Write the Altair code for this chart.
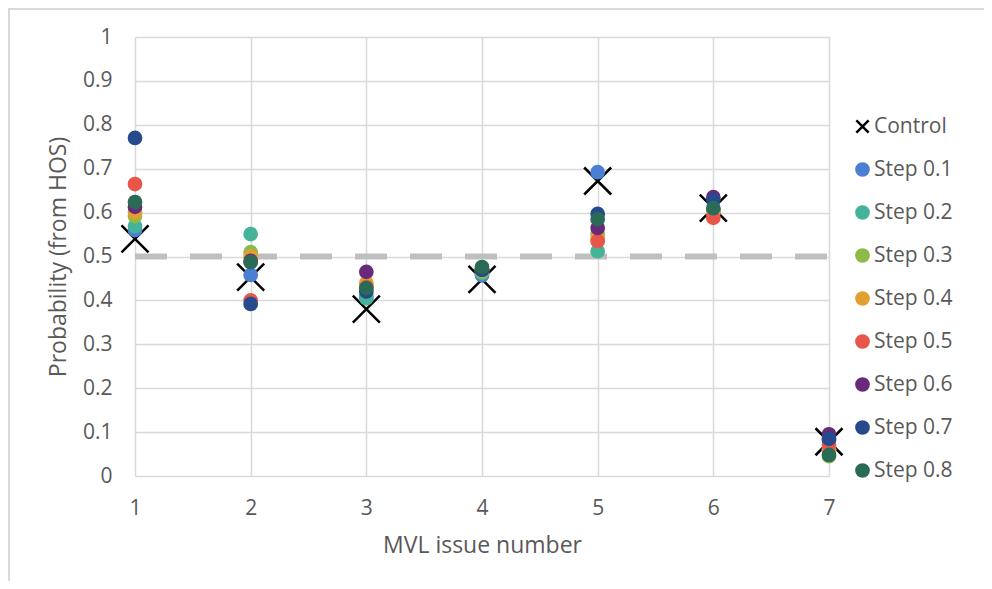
import altair as alt
import pandas as pd

issues = [1, 2, 3, 4, 5, 6, 7]
series_names = ["Control", "Step 0.1", "Step 0.2", "Step 0.3", "Step 0.4",
                "Step 0.5", "Step 0.6", "Step 0.7", "Step 0.8"]
control = [0.540, 0.453, 0.380, 0.448, 0.672, 0.610, 0.078]
step01 = [0.560, 0.458, 0.410, 0.457, 0.692, 0.605, 0.082]
step02 = [0.569, 0.551, 0.405, 0.462, 0.512, 0.600, 0.060]
step03 = [0.592, 0.510, 0.435, 0.465, 0.550, 0.605, 0.045]
step04 = [0.600, 0.500, 0.440, 0.470, 0.540, 0.600, 0.060]
step05 = [0.665, 0.400, 0.430, 0.470, 0.535, 0.588, 0.070]
step06 = [0.613, 0.490, 0.465, 0.470, 0.565, 0.635, 0.095]
step07 = [0.770, 0.392, 0.420, 0.470, 0.597, 0.628, 0.085]
step08 = [0.624, 0.487, 0.428, 0.476, 0.585, 0.610, 0.048]
threshold = [0.5]

colors = ["#000000", "#4A7FD4", "#44B39A", "#8DBA48", "#E2A032",
          "#E8564A", "#6A2A7A", "#264A8C", "#2A6B58"]
X_PATH = "M-1,-1L1,1M-1,1L1,-1"

all_series = [control, step01, step02, step03, step04, step05, step06, step07, step08]
rows = []
for name, vals in zip(series_names, all_series):
    for i, v in zip(issues, vals):
        rows.append({"issue": i, "prob": v, "series": name,
                     "kind": "control" if name == "Control" else "step"})
df = pd.DataFrame(rows)

FONT = "Open Sans"
GREY_TXT = "#595959"

x_scale = alt.Scale(domain=[1, 7], nice=False, zero=False)
y_scale = alt.Scale(domain=[0, 1], nice=False)

legend = alt.Legend(title=None, orient="none", legendX=717, legendY=79)

points = alt.Chart(df).mark_point(filled=True, opacity=1, strokeWidth=2.5).encode(
    x=alt.X("issue:Q", scale=x_scale,
            axis=alt.Axis(title="MVL issue number", values=issues, format="d",
                          labelPadding=21, titlePadding=16, labelFlush=False,
                          labelOverlap=False)),
    y=alt.Y("prob:Q", scale=y_scale,
            axis=alt.Axis(title="Probability (from HOS)",
                          values=[i / 10 for i in range(11)], format=".1~f",
                          labelPadding=23, titlePadding=12, labelOverlap=False,
                          labelFlush=False)),
    fill=alt.Fill("series:N", scale=alt.Scale(domain=series_names, range=colors),
                  sort=series_names, legend=legend),
    stroke=alt.Stroke("series:N", scale=alt.Scale(domain=series_names, range=colors),
                      sort=series_names, legend=legend),
    shape=alt.Shape("series:N", scale=alt.Scale(domain=series_names,
                                                  range=[X_PATH] + ["circle"] * 8),
                    sort=series_names, legend=legend),
    size=alt.Size("kind:N", scale=alt.Scale(type="ordinal", domain=["control", "step"],
                                              range=[729, 150]),
                  legend=None),
)

dash = alt.Chart(pd.DataFrame({"y": threshold})).mark_rule(
    color="#BFBFBF", strokeWidth=6, strokeDash=[32, 23], strokeCap="butt"
).encode(
    y=alt.Y("y:Q", scale=y_scale),
    x=alt.datum(issues[0], scale=x_scale),
    x2=alt.datum(issues[-1]),
)

frame_left = alt.Chart(pd.DataFrame({"a": [0]})).mark_rule(
    color="#D9D9D9", strokeWidth=2
).encode(x=alt.value(-126), y=alt.value(-29), y2=alt.value(560))
frame_top = alt.Chart(pd.DataFrame({"a": [0]})).mark_rule(
    color="#D9D9D9", strokeWidth=2
).encode(x=alt.value(-127), x2=alt.value(850), y=alt.value(-28))

chart = alt.layer(frame_left, frame_top, dash, points).properties(
    width=694, height=439,
    autosize=alt.AutoSizeParams(type="none"),
    padding={"left": 127, "top": 29, "right": 155, "bottom": 105},
    background="white",
).configure_view(stroke=None).configure_axis(
    domain=False, ticks=False, grid=True, gridColor="#D9D9D9", gridWidth=1.5,
    labelFont=FONT, labelFontSize=21, labelColor=GREY_TXT,
    titleFont=FONT, titleFontSize=23, titleColor=GREY_TXT, titleFontWeight="normal",
).configure_legend(
    labelFont=FONT, labelFontSize=21, labelColor=GREY_TXT, labelLimit=300,
    symbolSize=150, symbolStrokeWidth=2.5, rowPadding=20, labelOffset=1, padding=0,
)

chart.save("out.html", embed_options={"renderer": "svg", "actions": False})
